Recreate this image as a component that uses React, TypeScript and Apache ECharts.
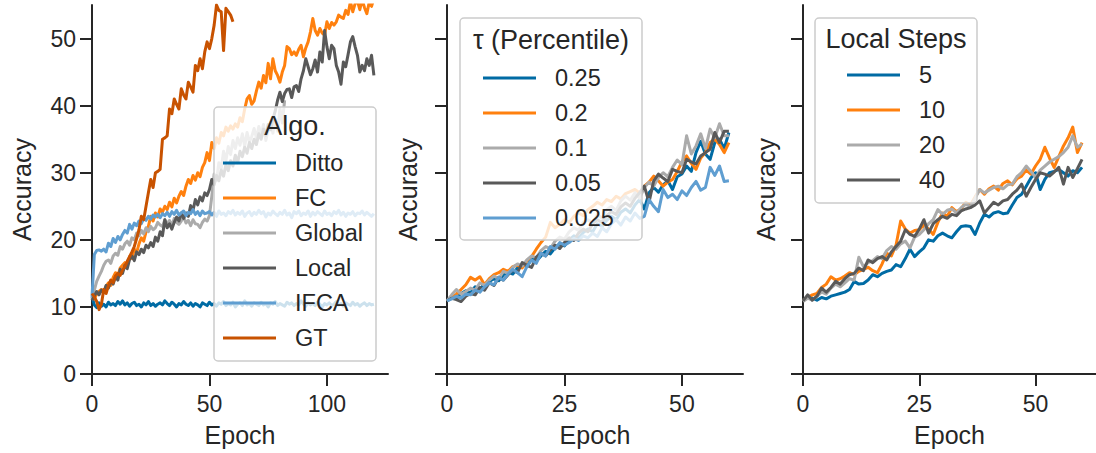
import React, { useEffect, useRef } from "react";
import * as echarts from "echarts";

// ---- Panel 1: algorithms, 120 epochs ----
const algoNames = ["Ditto", "FC", "Global", "Local", "IFCA", "GT"];
const algoColors = ["#006BA4", "#FF800E", "#ABABAB", "#595959", "#5F9ED1", "#C85200"];

const ditto = [
  11.5, 10.3, 9.9, 10.6, 10.1, 10.4, 10.0, 10.7, 10.3, 10.5,
  10.2, 10.8, 10.4, 10.9, 10.3, 10.6, 10.1, 10.5, 10.7, 10.2,
  10.4, 10.0, 10.6, 10.3, 10.8, 10.2, 10.5, 10.1, 10.4, 10.6,
  10.3, 10.9, 10.5, 10.2, 10.7, 10.4, 10.0, 10.5, 10.3, 10.8,
  10.4, 10.2, 10.6, 10.1, 10.5, 10.3, 10.0, 10.6, 10.4, 10.2,
  10.7, 10.3, 10.5, 10.1, 10.6, 10.4, 10.8, 10.2, 10.5, 10.3,
  10.7, 10.0, 10.4, 10.6, 10.2, 10.9, 10.3, 10.5, 10.1, 10.6,
  10.4, 10.2, 10.7, 10.3, 10.5, 10.0, 10.6, 10.4, 10.8, 10.2,
  10.5, 10.3, 10.1, 10.7, 10.4, 10.6, 10.2, 10.5, 10.3, 10.9,
  10.4, 10.1, 10.6, 10.3, 10.5, 10.2, 10.7, 10.4, 10.0, 10.5,
  10.3, 10.6, 10.2, 10.4, 10.8, 10.3, 10.5, 10.1, 10.6, 10.4,
  10.2, 10.7, 10.3, 10.5, 10.1, 10.4, 10.6, 10.2, 10.5, 10.3,
  10.4,
];

const fc = [
  11.5, 11.2, 11.9, 12.3, 12.6, 12.2, 13.1, 13.6, 13.2, 14.4,
  15.1, 14.6, 15.8, 16.2, 16.6, 16.0, 17.5, 17.2, 18.6, 18.1,
  19.4, 20.3, 19.8, 21.2, 22.0, 23.5, 22.8, 24.0, 23.4, 24.6,
  24.1, 25.0, 24.5, 25.6, 24.9, 26.2, 25.5, 26.5, 27.2, 26.6,
  28.0, 29.0, 28.4, 29.6, 28.9, 30.0, 29.4, 30.8, 31.5, 33.0,
  31.8, 34.5, 33.6, 35.2, 34.4, 36.0, 35.5, 36.8, 36.2, 37.0,
  36.5, 37.3, 36.8, 38.2, 37.6, 39.5, 41.0, 41.5, 40.2, 40.7,
  42.2, 43.5, 42.6, 44.5, 43.4, 46.3, 44.0, 47.0, 45.2, 44.5,
  43.5, 45.0, 46.0, 48.8, 48.5, 47.6, 48.0, 47.5, 48.4, 49.0,
  47.3, 48.6, 49.5, 51.0, 53.0, 51.2, 50.5, 51.5, 50.8, 50.5,
  52.5, 51.5, 52.4, 52.0, 52.5, 53.5, 53.2, 53.0, 54.2, 53.6,
  55.5, 54.0, 55.2, 55.6, 54.3, 55.8, 54.6, 53.7, 55.4, 54.8,
  56.0,
];

const globalAcc = [
  11.0, 12.5, 13.8, 14.6, 15.3, 16.2, 16.8, 17.0, 16.5, 17.6,
  18.0, 17.7, 19.0, 18.6, 19.4, 19.8, 19.2, 20.3, 20.0, 21.0,
  20.6, 21.4, 20.9, 21.8, 21.2, 22.0, 21.5, 21.8, 22.6, 22.2,
  22.0, 23.0, 22.4, 22.9, 22.1, 23.2, 22.6, 22.3, 22.8, 23.4,
  22.5, 22.9, 22.1, 23.0, 22.4, 22.3, 21.8, 22.6, 23.1, 22.8,
  23.6, 26.5, 29.8, 28.9, 31.5, 30.6, 33.2, 31.8, 33.9, 32.7,
  34.8, 33.6, 35.2, 34.1, 35.8, 33.9, 36.0, 34.6, 35.4, 36.6,
  35.1, 36.9, 35.6, 37.2, 34.8, 36.4, 37.5, 35.9, 38.0, 36.2,
  39.6, 37.4, 40.8,
];

const localAcc = [
  11.0, 11.6, 12.3, 11.8, 12.5, 12.1, 13.2, 12.8, 13.9, 13.4,
  14.5, 14.0, 15.6, 15.0, 16.2, 15.7, 17.1, 17.6, 16.9, 18.2,
  17.8, 18.6, 18.1, 19.2, 18.8, 19.6, 19.0, 20.4, 19.8, 21.2,
  20.6, 23.0, 21.8, 22.4, 21.6, 22.6, 23.4, 22.8, 24.0, 23.2,
  24.0, 23.5, 25.1, 24.4, 26.0, 25.2, 26.4, 25.8, 27.0, 26.6,
  27.5, 29.0, 28.2, 29.6, 28.8, 30.4, 29.5, 31.2, 30.3, 31.8,
  31.0, 32.6, 31.5, 33.2, 32.4, 33.8, 32.9, 34.5, 33.6, 35.0,
  34.2, 35.8, 35.0, 36.5, 35.6, 37.2, 36.4, 38.0, 39.2, 40.8,
  42.0, 40.6, 41.8, 42.4, 42.5, 41.2, 42.8, 43.0, 42.1, 44.0,
  45.2, 47.0, 45.8, 44.6, 45.5, 46.8, 45.0, 48.0, 46.5, 51.2,
  48.8, 47.0, 49.0, 48.5, 46.0, 45.0, 43.2, 46.5, 45.8, 47.6,
  49.5, 50.3, 48.8, 47.5, 45.0, 46.0, 45.2, 47.0, 46.0, 47.5,
  44.5,
];

const ifca = [
  11.5, 17.8, 18.4, 18.5, 18.3, 18.6, 18.2, 19.5, 19.0, 20.2,
  19.6, 20.5, 20.0, 20.8, 21.4, 21.0, 22.3, 21.6, 22.5, 22.1,
  22.8, 22.4, 23.2, 22.9, 23.5, 23.1, 23.7, 23.4, 23.8, 23.3,
  23.9, 23.6, 24.1, 23.5, 24.2, 23.8, 24.4, 23.7, 24.0, 24.3,
  23.6, 24.1, 23.9, 24.5, 23.8, 24.2, 23.6, 24.3, 23.9, 24.0,
  24.2, 23.7, 24.1, 23.5, 24.3, 23.8, 24.0, 23.6, 24.2, 23.9,
  24.4, 23.7, 24.1, 23.8, 24.3, 23.5, 24.0, 24.2, 23.6, 24.1,
  23.8, 24.4, 23.9, 24.2, 23.4, 24.0, 23.7, 24.3, 23.9, 23.6,
  24.1, 23.8, 24.4, 23.7, 24.0, 23.3, 24.2, 23.9, 24.3, 23.6,
  24.0, 23.8, 24.3, 23.5, 24.1, 23.7, 24.2, 23.9, 23.6, 24.3,
  23.8, 24.0, 23.6, 24.2, 23.9, 24.4, 23.7, 24.1, 23.5, 24.0,
  23.8, 24.2, 23.6, 24.0, 23.9, 24.3, 23.7, 24.1, 23.8, 23.5,
  23.9,
];

const gt = [
  12.0, 11.5, 10.8, 9.6, 10.4, 12.6, 12.0, 13.2, 14.0, 13.6,
  14.6, 15.0, 14.7, 15.5, 16.0, 16.8, 17.5, 18.2, 19.0, 20.2,
  21.5, 23.5, 23.0, 25.0, 27.0, 29.0, 27.8, 30.0, 30.2, 30.5,
  35.0, 35.2, 35.5, 39.5, 38.8, 41.0, 40.2, 39.5, 42.5, 41.6,
  41.0, 43.5, 42.8, 42.0, 46.0, 45.2, 47.0, 45.5, 48.0, 49.5,
  48.5, 50.0, 52.0, 55.0, 54.2, 54.0, 48.2, 54.5, 54.0, 53.5,
  52.5,
];

// ---- Panel 2: tau percentile, 60 epochs ----
const tauNames = ["0.25", "0.2", "0.1", "0.05", "0.025"];
const tauColors = ["#006BA4", "#FF800E", "#ABABAB", "#595959", "#5F9ED1"];

const tau025 = [
  10.9, 11.6, 11.2, 12.0, 12.4, 12.1, 13.0, 12.7, 13.4, 13.8,
  14.2, 13.9, 14.8, 15.2, 14.9, 15.8, 16.3, 16.0, 17.2, 16.8,
  17.6, 18.3, 17.9, 18.8, 19.4, 19.1, 20.0, 20.6, 20.2, 21.1,
  21.6, 21.2, 22.4, 22.0, 22.9, 23.5, 23.0, 24.1, 24.6, 24.0,
  25.2, 26.0, 24.6, 27.0, 27.8, 27.1, 28.2, 28.8, 27.5, 29.4,
  29.8, 31.0, 30.2, 33.0, 34.7, 32.8, 32.0, 34.5, 35.0, 33.6,
  36.0,
];
const tau02 = [
  10.9, 11.4, 11.9, 12.6, 13.3, 14.4, 14.0, 14.5, 13.3, 14.2,
  14.8, 15.1, 15.6, 15.3, 16.0, 16.2, 15.8, 16.9, 17.5, 18.6,
  19.6, 20.4, 22.6, 21.8, 22.3, 23.0, 22.6, 23.5, 24.0, 23.6,
  24.5, 25.0, 25.6, 25.2, 26.0, 25.7, 26.5, 26.1, 26.9, 27.2,
  27.5, 27.0, 28.0, 28.6, 29.5, 28.8, 28.0, 28.6, 29.0, 30.2,
  31.6, 32.5, 31.4, 30.5, 32.2, 33.0, 34.5, 35.0, 34.2, 33.0,
  34.5,
];
const tau01 = [
  10.9, 11.8, 12.6, 11.9, 12.3, 12.8, 12.5, 13.6, 13.2, 14.0,
  14.6, 14.2, 15.3, 15.0, 15.9, 16.4, 16.1, 17.0, 17.6, 17.3,
  18.4, 19.0, 18.7, 19.8, 20.4, 20.1, 21.2, 21.8, 21.4, 22.6,
  23.0, 22.5, 23.8, 23.2, 24.5, 25.0, 24.4, 25.8, 26.5, 25.9,
  27.0, 26.2, 27.8, 28.6, 28.0, 29.3, 30.0, 29.4, 30.8, 31.9,
  31.2, 35.5, 32.8, 34.0, 35.8, 33.6, 36.5, 35.2, 37.3, 35.5,
  35.5,
];
const tau005 = [
  10.9, 11.3, 11.1, 10.8, 11.6, 12.0, 11.8, 12.9, 12.5, 13.6,
  13.2, 14.4, 14.0, 14.8, 15.5, 15.1, 16.6, 16.2, 15.9, 17.4,
  18.0, 17.6, 18.5, 19.2, 18.7, 19.6, 20.3, 19.9, 21.0, 21.6,
  21.2, 22.4, 23.0, 22.6, 23.6, 24.2, 23.8, 24.9, 25.5, 25.0,
  26.2, 27.0, 28.0, 25.6, 28.8, 29.8, 29.2, 28.7, 30.5, 30.2,
  30.0, 32.0, 31.6, 31.3, 32.5, 33.0, 33.5, 36.0, 34.5, 36.2,
  36.2,
];
const tau0025 = [
  10.9, 11.2, 11.6, 11.3, 11.9, 11.8, 12.5, 12.2, 13.0, 13.6,
  13.3, 14.4, 14.0, 14.9, 15.6, 15.1, 14.5, 16.0, 17.0, 16.5,
  18.0, 17.6, 19.0, 18.6, 19.6, 19.2, 19.6, 20.2, 19.9, 20.6,
  20.3, 21.0, 20.5, 21.8, 21.2, 22.4, 23.0, 22.2, 23.4, 22.8,
  24.0, 23.2, 23.5, 26.0, 25.0, 24.2, 27.5, 26.3, 26.8, 26.0,
  27.3, 26.6, 27.8, 28.7, 27.4, 27.8, 30.8, 29.6, 31.0, 28.7,
  28.8,
];

// ---- Panel 3: local steps, 60 epochs ----
const stepNames = ["5", "10", "20", "40"];
const stepColors = ["#006BA4", "#FF800E", "#ABABAB", "#595959"];

const steps5 = [
  11.0, 11.5, 11.3, 11.0, 11.4, 11.2, 11.6, 11.8, 12.0, 12.2,
  12.6, 13.8, 13.4, 13.5, 14.0, 14.8, 14.5, 15.0, 15.3, 15.5,
  16.3, 16.0, 17.2, 18.6, 17.5, 18.2, 18.8, 20.0, 19.8, 20.6,
  21.0, 20.6, 20.3, 21.2, 22.0, 22.1, 22.0, 20.8, 22.5, 23.8,
  23.4, 24.0, 24.2, 23.9, 24.0, 25.2, 26.3, 26.8, 28.0, 29.2,
  30.0, 27.5, 29.0, 30.0, 30.2, 30.5, 30.0, 29.5, 30.3, 30.0,
  30.8,
];
const steps10 = [
  11.0, 11.4, 11.8, 12.0, 12.9, 13.4, 14.5, 14.0, 14.2, 14.6,
  15.1, 14.8, 15.3, 15.6, 15.9, 15.4, 15.1, 16.4, 18.0, 17.6,
  19.2, 22.8, 21.6, 21.0, 21.4, 21.5, 22.2, 21.6, 20.8, 22.6,
  24.0, 23.5, 24.8, 24.2, 24.6, 25.6, 25.2, 26.4, 27.5, 26.8,
  27.6, 28.0, 27.4, 28.4, 28.8, 28.2, 29.1, 29.5, 30.4, 29.8,
  31.0, 32.0, 33.8, 32.2, 30.8, 32.4, 34.0, 35.2, 36.8, 33.0,
  34.5,
];
const steps20 = [
  10.8, 11.3, 11.0, 11.6, 12.2, 11.9, 12.8, 13.4, 13.0, 13.6,
  14.2, 14.0, 17.4, 16.0, 16.6, 16.9, 17.5, 17.2, 18.4, 19.0,
  18.6, 19.4, 19.8, 18.8, 20.4, 20.8, 21.5, 22.4, 23.0, 24.5,
  23.8, 24.4, 24.6, 24.0, 24.8, 25.3, 25.0, 26.2, 27.5, 27.0,
  27.4, 27.8, 28.0, 27.6, 28.2, 28.3, 29.4, 30.0, 31.0, 30.2,
  29.3, 30.4, 31.0, 31.6, 32.0, 32.4, 33.0, 33.8, 35.5, 33.8,
  34.3,
];
const steps40 = [
  10.9, 11.8, 11.0, 11.6, 12.8, 12.2, 12.9, 13.8, 13.4, 14.2,
  14.8, 15.0, 15.8, 15.4, 17.0, 16.6, 17.2, 17.5, 17.0, 18.2,
  19.0, 19.8, 21.5, 20.8, 20.5, 21.6, 23.0, 21.0, 22.4, 23.0,
  23.5, 23.2, 23.8, 23.6, 24.3, 24.6, 24.8, 25.2, 25.8, 24.0,
  24.8, 25.6, 25.2, 25.8, 26.0, 26.8, 27.4, 28.3, 26.5, 27.8,
  29.0, 30.0, 29.8, 29.5, 30.1, 30.8, 28.3, 30.8, 29.3, 30.6,
  32.0,
];

const yTicks = [0, 10, 20, 30, 40, 50];
const xTicksLong = [0, 50, 100];
const xTicksShort = [0, 25, 50];

const FONT = "'Liberation Sans', Arial, Helvetica, sans-serif";
const INK = "#262626";

function lineSeries(name: string, values: number[], color: string, idx: number) {
  return {
    type: "line",
    name,
    xAxisIndex: idx,
    yAxisIndex: idx,
    data: values.map((v, i) => [i, v]),
    showSymbol: false,
    symbol: "none",
    silent: true,
    lineStyle: { width: 3, color, join: "round", cap: "butt" },
    itemStyle: { color },
    emphasis: { disabled: true },
    z: 2,
  };
}

function xAxis(idx: number, max: number, ticks: number[]) {
  return {
    type: "value",
    gridIndex: idx,
    min: 0,
    max,
    name: "Epoch",
    nameLocation: "middle",
    nameGap: 48,
    nameTextStyle: { fontFamily: FONT, fontSize: 25, color: INK },
    splitLine: { show: false },
    axisLine: { onZero: false, lineStyle: { color: INK, width: 2 } },
    axisTick: { length: 12, customValues: ticks, lineStyle: { color: INK, width: 2 } },
    axisLabel: { customValues: ticks, fontFamily: FONT, fontSize: 23, color: INK, margin: 18 },
  };
}

function yAxis(idx: number, showLabels: boolean, nameGap: number) {
  return {
    type: "value",
    gridIndex: idx,
    min: 0,
    max: 55,
    name: "Accuracy",
    nameLocation: "middle",
    nameGap,
    nameTextStyle: { fontFamily: FONT, fontSize: 25, color: INK },
    splitLine: { show: false },
    axisLine: { onZero: false, lineStyle: { color: INK, width: 2 } },
    axisTick: { length: 12, customValues: yTicks, lineStyle: { color: INK, width: 2 } },
    axisLabel: {
      show: showLabels,
      customValues: yTicks,
      fontFamily: FONT,
      fontSize: 23,
      color: INK,
      margin: 16,
    },
  };
}

function legend(names: string[], left: number, top: number) {
  return {
    data: names,
    orient: "vertical",
    left,
    top,
    padding: 0,
    itemWidth: 53,
    itemHeight: 3,
    itemGap: 11,
    icon: "rect",
    selectedMode: false,
    backgroundColor: "transparent",
    borderWidth: 0,
    z: 5,
    textStyle: {
      fontFamily: FONT,
      fontSize: 23.5,
      color: INK,
      lineHeight: 22,
      padding: [0, 0, 0, 14],
    },
  };
}

function legendBox(x: number, y: number, w: number, h: number) {
  return {
    type: "rect",
    z: 3,
    silent: true,
    shape: { x, y, width: w, height: h, r: 4 },
    style: { fill: "rgba(255,255,255,0.8)", stroke: "#cccccc", lineWidth: 1.5 },
  };
}

function legendTitle(text: string, x: number, y: number) {
  return {
    type: "text",
    z: 10,
    silent: true,
    x,
    y,
    style: {
      text,
      fontFamily: FONT,
      fontSize: 27,
      fill: INK,
      align: "center",
      verticalAlign: "middle",
    },
  };
}

export default function App() {
  const ref = useRef<HTMLDivElement>(null);

  useEffect(() => {
    if (!ref.current) return;
    const chart = echarts.init(ref.current, undefined, { renderer: "svg" });

    const algoData = [ditto, fc, globalAcc, localAcc, ifca, gt];
    const tauData = [tau025, tau02, tau01, tau005, tau0025];
    const stepData = [steps5, steps10, steps20, steps40];

    const series = [
      ...algoNames.map((n, i) => lineSeries(n, algoData[i], algoColors[i], 0)),
      ...tauNames.map((n, i) => lineSeries(n, tauData[i], tauColors[i], 1)),
      ...stepNames.map((n, i) => lineSeries(n, stepData[i], stepColors[i], 2)),
    ];

    chart.setOption({
      animation: false,
      backgroundColor: "#ffffff",
      textStyle: { fontFamily: FONT },
      grid: [
        { left: 92, top: 5, width: 296, height: 369 },
        { left: 447, top: 5, width: 296, height: 369 },
        { left: 803, top: 5, width: 296, height: 369 },
      ],
      xAxis: [xAxis(0, 126, xTicksLong), xAxis(1, 63, xTicksShort), xAxis(2, 63, xTicksShort)],
      yAxis: [yAxis(0, true, 58), yAxis(1, false, 27), yAxis(2, false, 25)],
      legend: [
        legend(algoNames, 223, 151),
        legend(tauNames, 483, 66),
        legend(stepNames, 847, 63),
      ],
      graphic: [
        legendBox(214, 107, 162, 254),
        legendBox(460, 18, 182, 222),
        legendBox(815, 18, 162, 185),
        legendTitle("Algo.", 295, 126),
        legendTitle("τ (Percentile)", 551, 40),
        legendTitle("Local Steps", 896, 39),
      ],
      series,
    });

    return () => chart.dispose();
  }, []);

  return (
    <div
      ref={ref}
      style={{ position: "absolute", left: 0, top: 0, width: 1096, height: 453 }}
    />
  );
}
